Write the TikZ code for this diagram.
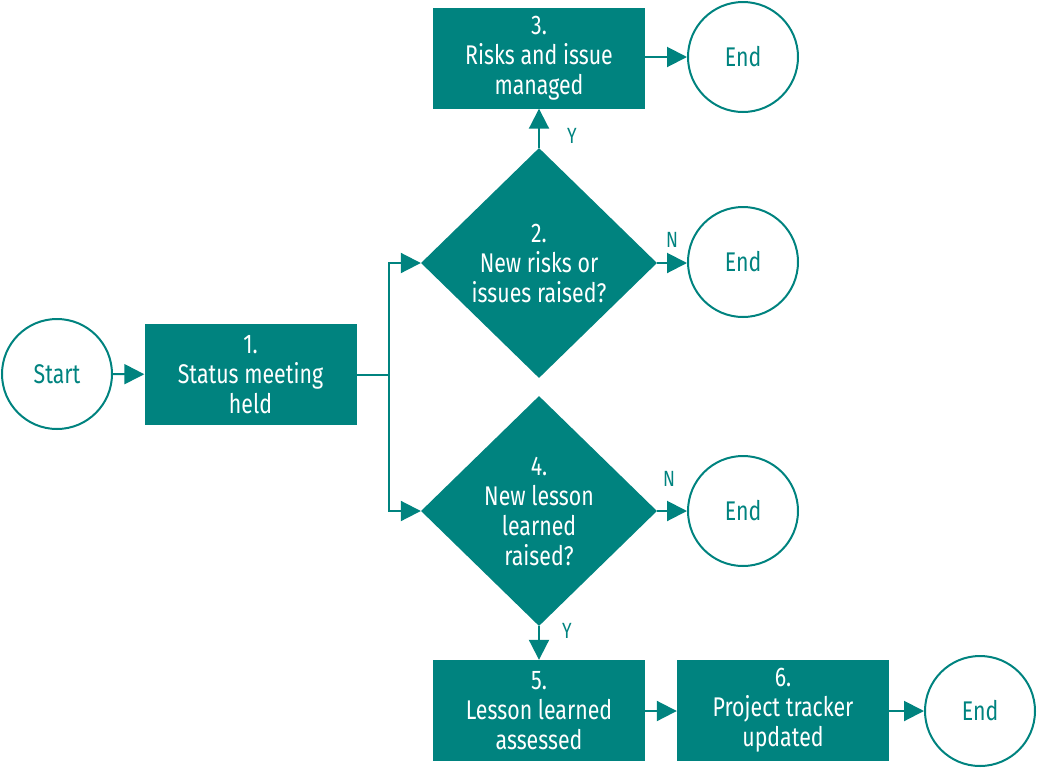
\documentclass[tikz,border=0pt]{standalone}
\usepackage{fontspec}
\setmainfont[FakeStretch=0.79]{Fira Sans}
\usetikzlibrary{arrows.meta,shapes.geometric}
\definecolor{teal}{HTML}{00837F}
\tikzset{
  every picture/.style={x=1pt,y=-1pt},
  stepbox/.style={draw=none,fill=teal,text=white,minimum width=212pt,minimum height=101pt,align=center,inner sep=0pt,font=\fontsize{27}{30}\selectfont},
  decision/.style={diamond,fill=teal,text=white,minimum width=236pt,minimum height=230pt,inner sep=0pt,align=center,font=\fontsize{27}{30}\selectfont},
  term/.style={circle,draw=teal,line width=2pt,text=teal,minimum size=110pt,inner sep=0pt,font=\fontsize{27}{30}\selectfont},
  conn/.style={draw=teal,line width=2pt,-{Triangle[length=20pt,width=20pt]}},
  plain/.style={draw=teal,line width=2pt},
  lbl/.style={text=teal,font=\fontsize{22}{24}\selectfont,inner sep=0pt}
}
\begin{document}
\begin{tikzpicture}
\useasboundingbox (0,0) rectangle (1039,769);
\node[term] (start) at (57,374) {Start};
\node[stepbox] (s1) at (250.5,374.5) {1.\\Status meeting\\held};
\node[decision] (d2) at (539,263) {2.\\New risks or\\issues raised?};
\node[decision] (d4) at (539,511) {4.\\New lesson\\learned\\raised?};
\node[stepbox] (s3) at (539,58) {3.\\Risks and issue\\managed};
\node[stepbox] (s5) at (539,710.5) {5.\\Lesson learned\\assessed};
\node[stepbox] (s6) at (783,710.5) {6.\\Project tracker\\updated};
\node[term] (e1) at (743,57) {End};
\node[term] (e2) at (743,262) {End};
\node[term] (e3) at (743,511) {End};
\node[term] (e4) at (980,711) {End};
\coordinate (split) at (389,374.5);
\draw[conn] (start) -- (s1);
\draw[plain] (s1.east) -- (split);
\draw[conn] (split) |- (d2.west);
\draw[conn] (split) |- (d4.west);
\draw[conn] (d2.north) -- (s3.south);
\draw[conn] (s3.east |- e1) -- (e1.west);
\draw[conn] (d2.east) -- (e2.west |- d2.east);
\draw[conn] (d4.east) -- (e3.west |- d4.east);
\draw[conn] (d4.south) -- (s5.north);
\draw[conn] (s5.east |- 0,711) -- (s6.west |- 0,711);
\draw[conn] (s6.east |- e4) -- (e4.west);
\node[lbl] (y1) at (572,136) {Y};
\node[lbl] (n2) at (672,240) {N};
\node[lbl] (n4) at (669,479) {N};
\node[lbl] (y4) at (567,631) {Y};
\end{tikzpicture}
\end{document}
